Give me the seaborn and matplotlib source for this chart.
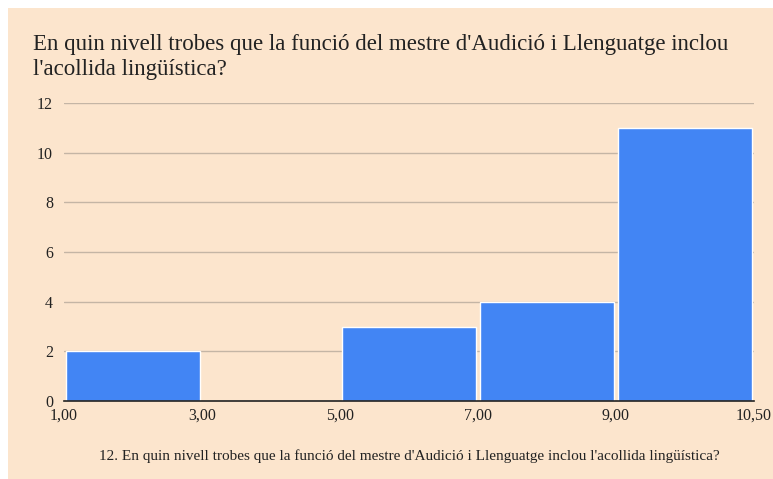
import numpy as np
import pandas as pd
import matplotlib
matplotlib.use("Agg")
import matplotlib.pyplot as plt
import seaborn as sns
from matplotlib.patches import Rectangle

# Data
bin_edges = ["1,00", "3,00", "5,00", "7,00", "9,00", "10,50"]
bin_names = ["1-3", "3-5", "5-7", "7-9", "9-10,5"]
counts = [2, 0, 3, 4, 11]

title = "En quin nivell trobes que la funció del mestre d'Audició i Llenguatge inclou\nl'acollida lingüística?"
xlabel = "12. En quin nivell trobes que la funció del mestre d'Audició i Llenguatge inclou l'acollida lingüística?"

bg = "#FCE5CD"
bar_color = "#4285F4"

sns.set_style("white")
plt.rcParams["font.family"] = ["Liberation Serif", "DejaVu Serif"]

W, H = 773, 479
fig = plt.figure(figsize=(W / 100, H / 100), dpi=100)
fig.patch.set_facecolor("white")
fig.patches.append(Rectangle((8 / W, 0), 1, 1 - 8 / H, transform=fig.transFigure,
                             facecolor=bg, edgecolor="none", zorder=-10))

ax = fig.add_axes([64 / W, 1 - 401 / H, (754 - 64) / W, (401 - 103) / H])
ax.set_facecolor(bg)

df = pd.DataFrame({"bin": bin_names, "count": counts})
sns.barplot(data=df, x="bin", y="count", color=bar_color, width=0.97,
            saturation=1, ax=ax, zorder=3)

ax.set_xlim(-0.5, len(bin_names) - 0.5)
ax.set_ylim(0, 12)
ax.set_yticks(np.arange(0, 13, 2))
ax.set_xticks(np.arange(len(bin_edges)) - 0.5)
ax.set_xticklabels(bin_edges)
ax.tick_params(axis="both", length=0, labelsize=11.5, colors="#222222")
ax.tick_params(axis="y", pad=8)
ax.tick_params(axis="x", pad=5)
ax.yaxis.grid(True, color="#C4B5A5", linewidth=1, zorder=0)
ax.set_axisbelow(True)
for s in ["top", "right", "left"]:
    ax.spines[s].set_visible(False)
ax.spines["bottom"].set_color("#222222")
ax.spines["bottom"].set_linewidth(1.2)
ax.spines["bottom"].set_zorder(5)

ax.set_ylabel("")
ax.set_xlabel(xlabel, fontsize=11, color="#222222", labelpad=18)

fig.text(33 / W, 1 - 34 / H, title, fontsize=16.5, color="#222222",
         va="top", ha="left", linespacing=1.25)

fig.savefig("out.png", dpi=100, facecolor=fig.get_facecolor())
